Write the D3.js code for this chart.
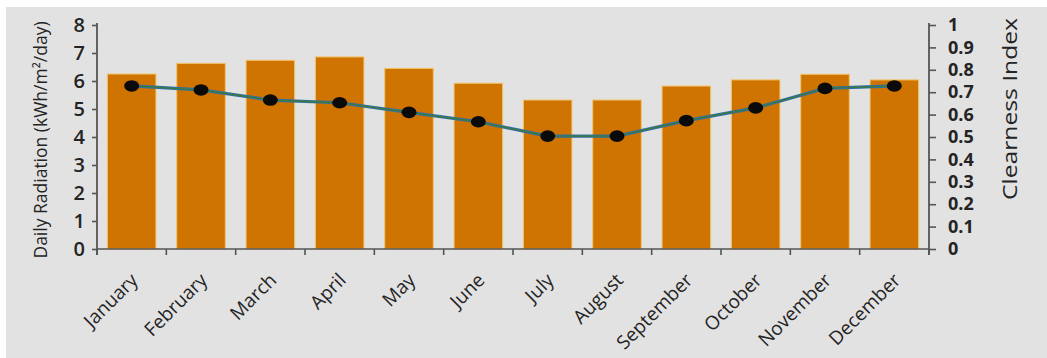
<!DOCTYPE html>
<html>
<head>
<meta charset="utf-8">
<script src="https://cdn.jsdelivr.net/npm/d3@7"></script>
<style>
  html, body { margin: 0; padding: 0; background: #ffffff; }
  svg { display: block; }
  text { font-family: "Open Sans", "Noto Sans", sans-serif; fill: #242424; }
</style>
</head>
<body>
<svg id="chart" width="1047" height="358"></svg>
<script>
// Monthly solar resource: daily radiation (bars) and clearness index (line)
const months = ["January", "February", "March", "April", "May", "June",
                "July", "August", "September", "October", "November", "December"];
const radiation = [6.25, 6.63, 6.74, 6.86, 6.45, 5.92, 5.32, 5.32, 5.82, 6.04, 6.24, 6.04];
const clearness = [0.728, 0.71, 0.665, 0.653, 0.61, 0.568, 0.504, 0.504, 0.573, 0.63, 0.717, 0.728];
const radiationTicks = [0, 1, 2, 3, 4, 5, 6, 7, 8];
const clearnessTicks = [0, 0.1, 0.2, 0.3, 0.4, 0.5, 0.6, 0.7, 0.8, 0.9, 1];

const svg = d3.select("#chart");
const W = 1047, H = 358;
const plotL = 97, plotR = 929, plotT = 25, plotB = 249;

// panel background
svg.append("rect").attr("x", 6).attr("y", 7).attr("width", W - 6).attr("height", H - 7)
  .attr("fill", "#e2e2e2");

const x = d3.scaleBand().domain(months).range([plotL, plotR]).paddingInner(0.3).paddingOuter(0.15);
const yL = d3.scaleLinear().domain([0, 8]).range([plotB, plotT]);
const yR = d3.scaleLinear().domain([0, 1]).range([plotB, plotT]);

const axisColor = "#555555";

// bars
svg.append("g").selectAll("rect").data(months).join("rect")
  .attr("x", d => x(d))
  .attr("y", (d, i) => yL(radiation[i]))
  .attr("width", x.bandwidth())
  .attr("height", (d, i) => plotB - yL(radiation[i]))
  .attr("fill", "#cf7400")
  .attr("stroke", "#f2c46a")
  .attr("stroke-width", 1);

// clearness index line
const line = d3.line()
  .x((d, i) => x(months[i]) + x.bandwidth() / 2)
  .y(d => yR(d));
svg.append("path").datum(clearness).attr("d", line)
  .attr("fill", "none").attr("stroke", "#2f6ea6").attr("stroke-width", 3.2);
svg.append("path").datum(clearness).attr("d", line)
  .attr("fill", "none").attr("stroke", "#3f7a36").attr("stroke-width", 1.3);
svg.append("g").selectAll("ellipse").data(clearness).join("ellipse")
  .attr("cx", (d, i) => x(months[i]) + x.bandwidth() / 2)
  .attr("cy", d => yR(d))
  .attr("rx", 7.5).attr("ry", 5.8)
  .attr("fill", "#0a0a0a");

// left axis
const gL = svg.append("g").attr("transform", `translate(${plotL},0)`)
  .call(d3.axisLeft(yL).tickValues(radiationTicks).tickSize(5).tickSizeOuter(0).tickPadding(7));
gL.select(".domain").remove();
gL.append("line").attr("x1", 0).attr("x2", 0).attr("y1", plotT - 2).attr("y2", plotB + 6)
  .attr("stroke", axisColor).attr("stroke-width", 1.8);
gL.selectAll(".tick line").attr("stroke", axisColor).attr("stroke-width", 1.6);
gL.selectAll(".tick text").style("font-size", "20px").style("font-weight", 600)
  .style("font-family", "'Open Sans', sans-serif").attr("fill", "#2a2a2a");

// right axis
const gR = svg.append("g").attr("transform", `translate(${plotR},0)`)
  .call(d3.axisRight(yR).tickValues(clearnessTicks).tickFormat(d3.format("~g")).tickSize(7).tickSizeOuter(0).tickPadding(12));
gR.select(".domain").remove();
gR.append("line").attr("x1", 0).attr("x2", 0).attr("y1", plotT - 2).attr("y2", plotB + 6)
  .attr("stroke", axisColor).attr("stroke-width", 1.8);
gR.selectAll(".tick line").attr("stroke", axisColor).attr("stroke-width", 1.6);
gR.selectAll(".tick text").style("font-size", "18px").style("font-weight", 700)
  .style("font-family", "'Open Sans', sans-serif").attr("fill", "#2a2a2a");

// bottom axis: baseline with ticks at band boundaries
svg.append("line").attr("x1", plotL).attr("x2", plotR).attr("y1", plotB).attr("y2", plotB)
  .attr("stroke", axisColor).attr("stroke-width", 1.6);
const bounds = d3.range(months.length + 1).map(i => plotL + i * (plotR - plotL) / months.length);
svg.append("g").selectAll("line").data(bounds).join("line")
  .attr("x1", d => d).attr("x2", d => d).attr("y1", plotB).attr("y2", plotB + 6)
  .attr("stroke", axisColor).attr("stroke-width", 1.6);

// month labels
svg.append("g").selectAll("text").data(months).join("text")
  .attr("transform", d => `translate(${x(d) + x.bandwidth() / 2 - 2},${plotB + 23}) rotate(-45)`)
  .attr("text-anchor", "end")
  .attr("dy", "0.7em")
  .style("font-size", "19px")
  .text(d => d);

// axis titles
svg.append("text")
  .attr("transform", `translate(47,${(plotT + plotB) / 2 + 3}) rotate(-90)`)
  .attr("text-anchor", "middle")
  .style("font-size", "17.5px")
  .style("font-weight", 500)
  .text("Daily Radiation (kWh/m²/day)");
svg.append("text")
  .attr("transform", `translate(1017,109) rotate(-90)`)
  .attr("text-anchor", "middle")
  .attr("textLength", 182).attr("lengthAdjust", "spacingAndGlyphs")
  .style("font-size", "20px")
  .text("Clearness Index");
</script>
</body>
</html>
